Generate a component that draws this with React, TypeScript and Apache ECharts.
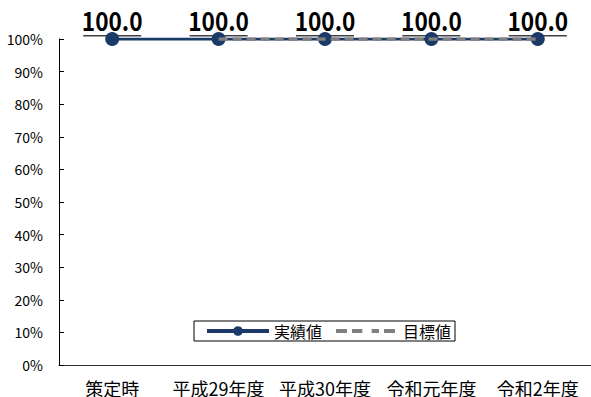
import React, { useEffect, useRef } from "react";
import * as echarts from "echarts";

const categories = ["策定時", "平成29年度", "平成30年度", "令和元年度", "令和2年度"];
const actualValues = [100, 100, 100, 100, 100];
const targetValues = [null, 100, 100, 100, 100];
const yTicks = { min: 0, max: 100, interval: 10 };

const NAVY = "#1B3A68";
const GREY = "#808080";
const JP = "'Noto Sans CJK JP', 'Noto Sans', sans-serif";

export default function App() {
  const ref = useRef<HTMLDivElement>(null);
  useEffect(() => {
    if (!ref.current) return;
    const chart = echarts.init(ref.current, null, { renderer: "svg" });
    chart.setOption({
      animation: false,
      backgroundColor: "#ffffff",
      grid: { left: 59, top: 39, width: 535, height: 328 },
      legend: {
        data: [
          { name: "実績値", lineStyle: { width: 4 } },
          {
            name: "目標値",
            itemStyle: { color: "rgba(0,0,0,0)", borderWidth: 0 },
            lineStyle: { width: 4, type: [11, 5] },
          },
        ],
        left: 194,
        top: 321,
        orient: "horizontal",
        borderColor: "#000000",
        borderWidth: 1,
        padding: [2, 4, 2, 11],
        itemWidth: 62,
        itemHeight: 12,
        itemGap: 12,
        textStyle: { fontFamily: JP, fontSize: 16, color: "#000000" },
      },
      xAxis: {
        type: "category",
        data: categories,
        boundaryGap: true,
        axisLine: { lineStyle: { color: "#333333", width: 1 } },
        axisTick: { inside: true, length: 4, lineStyle: { color: "#333333" } },
        axisLabel: {
          interval: 0,
          fontFamily: JP,
          fontSize: 18,
          color: "#000000",
          margin: 14,
        },
        splitLine: { show: false },
      },
      yAxis: {
        type: "value",
        min: yTicks.min,
        max: yTicks.max,
        interval: yTicks.interval,
        axisLine: { show: true, lineStyle: { color: "#000000", width: 1 } },
        axisTick: { show: true, inside: true, length: 5, lineStyle: { color: "#000000" } },
        axisLabel: {
          fontFamily: JP,
          fontSize: 14,
          color: "#000000",
          margin: 16,
          padding: [4, 0, 0, 0],
          formatter: "{value}%",
        },
        splitLine: { show: false },
      },
      series: [
        {
          name: "labels",
          type: "custom",
          data: actualValues.map((v, i) => [i, v]),
          z: 1,
          silent: true,
          renderItem: (params: any, api: any) => {
            const v = api.value(1);
            const pt = api.coord([api.value(0), v]);
            return {
              type: "group",
              children: [
                {
                  type: "rect",
                  shape: { x: pt[0] - 29, y: pt[1] - 4, width: 58, height: 1.5 },
                  style: { fill: "#404040" },
                },
                {
                  type: "text",
                  x: pt[0],
                  y: pt[1] - 6,
                  scaleX: 0.87,
                  style: {
                    text: Number(v).toFixed(1),
                    fontFamily: JP,
                    fontWeight: "bold",
                    fontSize: 26,
                    fill: "#000000",
                    align: "center",
                    verticalAlign: "bottom",
                  },
                },
              ],
            };
          },
        },
        {
          name: "実績値",
          type: "line",
          data: actualValues,
          symbol: "circle",
          symbolSize: 14,
          lineStyle: { color: NAVY, width: 3 },
          itemStyle: { color: NAVY },
          z: 2,
        },
        {
          name: "目標値",
          type: "line",
          data: targetValues,
          showSymbol: false,
          lineStyle: { color: GREY, width: 3.5, type: [9, 5] },
          itemStyle: { color: GREY },
          z: 3,
        },
      ],
    });
    return () => chart.dispose();
  }, []);
  return (
    <div
      ref={ref}
      style={{ position: "absolute", left: 0, top: 0, width: 591, height: 397 }}
    />
  );
}
